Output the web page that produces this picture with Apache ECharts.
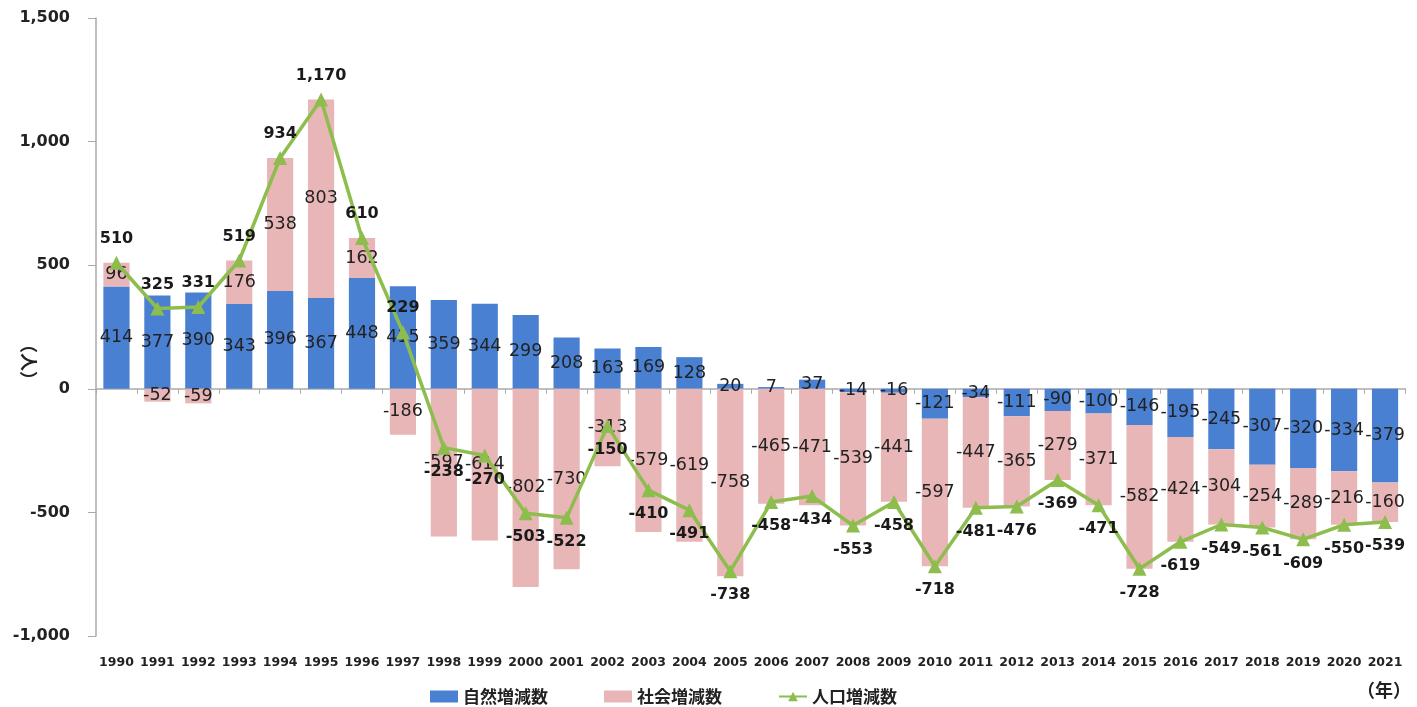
<!DOCTYPE html>
<html><head><meta charset="utf-8">
<script src="https://cdn.jsdelivr.net/npm/echarts@6/dist/echarts.min.js"></script>
<style>html,body{margin:0;padding:0;background:#fff}#c{width:1417px;height:707px}</style>
</head><body><div id="c"></div>
<script>
const years = ['1990','1991','1992','1993','1994','1995','1996','1997','1998','1999','2000','2001','2002','2003','2004','2005','2006','2007','2008','2009','2010','2011','2012','2013','2014','2015','2016','2017','2018','2019','2020','2021'];
const natural = [414,377,390,343,396,367,448,415,359,344,299,208,163,169,128,20,7,37,-14,-16,-121,-34,-111,-90,-100,-146,-195,-245,-307,-320,-334,-379];
const social = [96,-52,-59,176,538,803,162,-186,-597,-614,-802,-730,-313,-579,-619,-758,-465,-471,-539,-441,-597,-447,-365,-279,-371,-582,-424,-304,-254,-289,-216,-160];
const total = [510,325,331,519,934,1170,610,229,-238,-270,-503,-522,-150,-410,-491,-738,-458,-434,-553,-458,-718,-481,-476,-369,-471,-728,-619,-549,-561,-609,-550,-539];
const yTicks = [-1000,-500,0,500,1000,1500];

const fmt = v => v.toLocaleString('en-US');
const chart = echarts.init(document.getElementById('c'));
const barLabel = {show:true, position:'inside', color:'#222', fontFamily:'DejaVu Sans', fontSize:17.5, formatter:p=>p.value};
chart.setOption({
  animation:false,
  grid:{left:96, right:11.5, top:18, bottom:71, containLabel:false},
  legend:{
    top:683, left:425, itemGap:56, itemWidth:28, itemHeight:12,
    textStyle:{fontFamily:'Noto Sans CJK JP', fontWeight:'bold', fontSize:17, color:'#222'},
    data:[{name:'自然増減数', icon:'rect'},{name:'社会増減数', icon:'rect'},{name:'人口増減数'}]
  },
  xAxis:[
    {type:'category', data:years, position:'bottom',
     axisLine:{show:false, onZero:false}, axisTick:{show:false},
     axisLabel:{margin:20, color:'#222', fontFamily:'DejaVu Sans', fontWeight:'bold', fontSize:12.5, interval:0}},
    {type:'category', data:years, position:'bottom',
     axisLine:{show:true, onZero:true, lineStyle:{color:'#aaa', width:1.5}},
     axisTick:{show:true, length:5, lineStyle:{color:'#aaa'}}, axisLabel:{show:false}}
  ],
  yAxis:{type:'value', min:yTicks[0], max:yTicks[yTicks.length-1], interval:500,
    axisLine:{show:true, lineStyle:{color:'#aaa', width:1.5}},
    axisTick:{show:true, length:8, lineStyle:{color:'#aaa'}},
    splitLine:{show:false},
    axisLabel:{margin:26, color:'#222', fontFamily:'DejaVu Sans', fontWeight:'bold', fontSize:16, formatter:v=>fmt(v)}},
  graphic:[
    {type:'text', left:20, top:335, rotation:-Math.PI/2, style:{text:'（人）', fontFamily:'Noto Sans CJK JP', fontSize:18, fontWeight:'bold', fill:'#222'}},
    {type:'text', right:6, top:681, style:{text:'（年）', fontFamily:'Noto Sans CJK JP', fontSize:18, fontWeight:'bold', fill:'#222'}}
  ],
  series:[
    {name:'自然増減数', type:'bar', stack:'a', data:natural, barCategoryGap:'36%',
     itemStyle:{color:'#4a80d2'}, label:barLabel},
    {name:'社会増減数', type:'bar', stack:'a', data:social,
     itemStyle:{color:'#e8b6b6'}, label:barLabel},
    {name:'人口増減数', type:'line', data:total.map(v=>({value:v, label:{position: v>=0?'top':'bottom'}})),
     symbol:'triangle', symbolSize:14, z:5,
     lineStyle:{color:'#8dbd4c', width:3.5}, itemStyle:{color:'#8dbd4c'},
     label:{show:true, distance:9, color:'#1a1a1a', fontFamily:'DejaVu Sans', fontWeight:'bold', fontSize:16, formatter:p=>fmt(p.value)}}
  ]
});
</script></body></html>
